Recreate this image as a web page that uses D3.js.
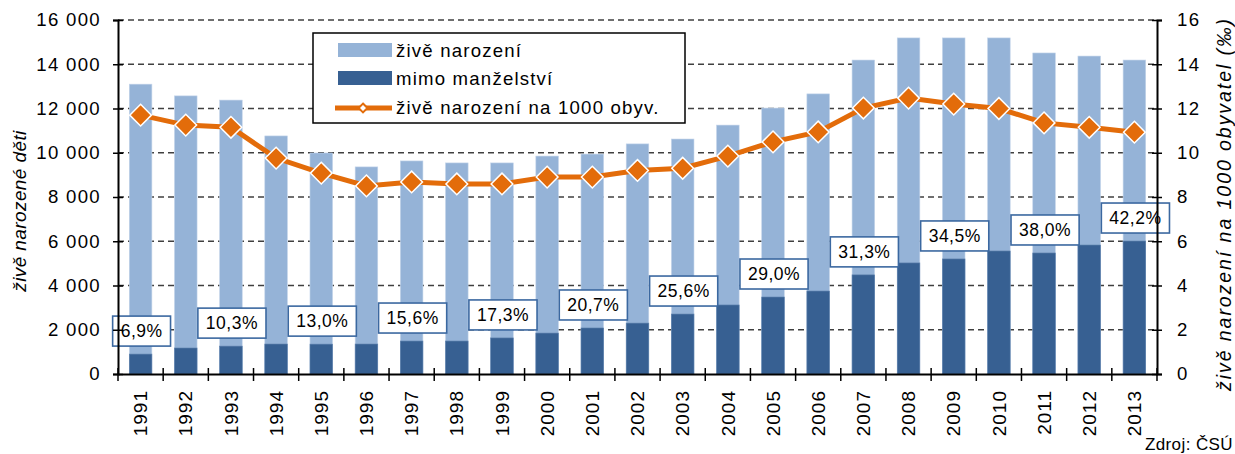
<!DOCTYPE html>
<html>
<head>
<meta charset="utf-8">
<script src="https://d3js.org/d3.v7.min.js"></script>
<style>
  body { margin: 0; background: #fff; }
  svg { font-family: "Liberation Sans", Arial, sans-serif; }
  .axis path { stroke: #000; stroke-width: 2; }
  .axis line { stroke: #000; stroke-width: 1.5; }
  .axis text { font-size: 18.6px; fill: #000; letter-spacing: 1.3px; }
</style>
</head>
<body>
<svg width="1235" height="454"></svg>
<script>
// data
const years = ["1991","1992","1993","1994","1995","1996","1997","1998","1999","2000","2001","2002",
               "2003","2004","2005","2006","2007","2008","2009","2010","2011","2012","2013"];
const births = [13100, 12570, 12380, 10760, 9990, 9360, 9630, 9540, 9540, 9850, 9940, 10400,
                10620, 11250, 12020, 12660, 14190, 15190, 15190, 15190, 14510, 14370, 14190];
const outOfWedlock = [900, 1175, 1260, 1355, 1350, 1355, 1490, 1490, 1630, 1850, 2080, 2300,
                      2710, 3120, 3480, 3750, 4480, 5020, 5200, 5560, 5470, 5830, 6010];
const rate = [11.7, 11.25, 11.15, 9.76, 9.08, 8.5, 8.68, 8.59, 8.59, 8.9, 8.9, 9.2,
              9.3, 9.85, 10.49, 10.94, 12.02, 12.47, 12.2, 12.0, 11.35, 11.15, 10.93];
const shareYears = ["1991","1993","1995","1997","1999","2001","2003","2005","2007","2009","2011","2013"];
const shareLabels = ["6,9%","10,3%","13,0%","15,6%","17,3%","20,7%","25,6%","29,0%","31,3%","34,5%","38,0%","42,2%"];
const leftTicks = [0, 2000, 4000, 6000, 8000, 10000, 12000, 14000, 16000];
const rightTicks = [0, 2, 4, 6, 8, 10, 12, 14, 16];

const cLight = "#95b3d7", cDark = "#376092", cOrange = "#e36c0a", cBox = "#3b68a0";

const margin = { top: 20, right: 78, bottom: 80, left: 118 };
const W = 1235, H = 454;
const width = W - margin.left - margin.right;
const height = H - margin.top - margin.bottom;

d3.formatDefaultLocale({ decimal: ",", thousands: " ", grouping: [3], currency: ["", " Kč"] });

const svg = d3.select("svg");
const g = svg.append("g").attr("transform", `translate(${margin.left},${margin.top})`);

const x = d3.scaleBand().domain(years).range([0, width]).paddingInner(0.5).paddingOuter(0.25);
const y = d3.scaleLinear().domain([0, 16000]).range([height, 0]);
const y2 = d3.scaleLinear().domain([0, 16]).range([height, 0]);

// gridlines
g.append("g").selectAll("line")
  .data(leftTicks.filter(d => d > 0))
  .join("line")
  .attr("x1", 0).attr("x2", width)
  .attr("y1", d => y(d)).attr("y2", d => y(d))
  .attr("stroke", "#404040").attr("stroke-width", 1.3)
  .attr("stroke-dasharray", "6,4");

// bars
g.append("g").selectAll("rect")
  .data(years)
  .join("rect")
  .attr("x", d => x(d)).attr("width", x.bandwidth())
  .attr("y", (d, i) => y(births[i])).attr("height", (d, i) => height - y(births[i]))
  .attr("fill", cLight).attr("stroke", "#c3d4ea").attr("stroke-width", 0.6);

g.append("g").selectAll("rect")
  .data(years)
  .join("rect")
  .attr("x", d => x(d)).attr("width", x.bandwidth())
  .attr("y", (d, i) => y(outOfWedlock[i])).attr("height", (d, i) => height - y(outOfWedlock[i]))
  .attr("fill", cDark).attr("stroke", "#5f82ad").attr("stroke-width", 0.6);

// line
const cx = d => x(d) + x.bandwidth() / 2;
g.append("path")
  .datum(years)
  .attr("fill", "none")
  .attr("stroke", cOrange).attr("stroke-width", 5)
  .attr("d", d3.line().x(d => cx(d)).y((d, i) => y2(rate[i])));

g.append("g").selectAll("path")
  .data(years)
  .join("path")
  .attr("d", d3.symbol(d3.symbolDiamond2, 300))
  .attr("transform", (d, i) => `translate(${cx(d)},${y2(rate[i])})`)
  .attr("fill", cOrange).attr("stroke", "#fff").attr("stroke-width", 1.5);

// share labels
const lab = g.append("g").selectAll("g")
  .data(shareYears)
  .join("g")
  .attr("transform", (d, i) => {
    const k = years.indexOf(d);
    return `translate(${cx(d) + 1},${y(outOfWedlock[k]) - 23})`;
  });
const boxes = lab.append("rect")
  .attr("y", -15).attr("height", 30)
  .attr("fill", "#fff").attr("stroke", cBox).attr("stroke-width", 1.6);
const texts = lab.append("text")
  .attr("text-anchor", "middle").attr("dy", "0.36em")
  .style("font-size", "17.5px").style("letter-spacing", "0.5px")
  .text((d, i) => shareLabels[i]);
texts.each(function (d, i) {
  const w = this.getComputedTextLength() + 16;
  d3.select(boxes.nodes()[i]).attr("x", -w / 2).attr("width", w);
});

// axes
const fmt = d3.format(",");
const ax = g.append("g").attr("class", "axis")
  .call(d3.axisLeft(y).tickValues(leftTicks).tickFormat(fmt).tickSizeOuter(0).tickSize(5).tickPadding(12));
ax.selectAll(".tick line").attr("x1", 5);

const ax2 = g.append("g").attr("class", "axis").attr("transform", `translate(${width},0)`)
  .call(d3.axisRight(y2).tickValues(rightTicks).tickSizeOuter(0).tickSize(5).tickPadding(15));
ax2.selectAll(".tick line").attr("x1", -5);

const xb = g.append("g").attr("class", "axis").attr("transform", `translate(0,${height})`)
  .call(d3.axisBottom(x).tickSize(0).tickSizeOuter(0));
xb.selectAll(".tick text")
  .attr("transform", "rotate(-90)")
  .attr("text-anchor", "end")
  .style("font-size", "19px").style("letter-spacing", "1px")
  .attr("x", -16).attr("y", 0).attr("dy", "0.35em");

// category boundary ticks
g.append("g").selectAll("line")
  .data(d3.range(years.length + 1))
  .join("line")
  .attr("x1", i => i * width / years.length).attr("x2", i => i * width / years.length)
  .attr("y1", height - 6).attr("y2", height + 7)
  .attr("stroke", "#000").attr("stroke-width", 1.5);

// axis titles
svg.append("text")
  .attr("transform", "translate(26,211) rotate(-90)")
  .attr("text-anchor", "middle")
  .style("font-size", "19px").style("font-style", "italic").style("letter-spacing", "0.4px")
  .text("živě narozené děti");

svg.append("text")
  .attr("transform", "translate(1231,205) rotate(-90)")
  .attr("text-anchor", "middle")
  .attr("textLength", 372).attr("lengthAdjust", "spacing")
  .style("font-size", "19.5px").style("font-style", "italic")
  .text("živě narození na 1000 obyvatel  (‰)");

svg.append("text")
  .attr("x", 1233).attr("y", 450).attr("text-anchor", "end")
  .style("font-size", "17px").style("letter-spacing", "0.4px")
  .text("Zdroj: ČSÚ");

// legend
const leg = svg.append("g").attr("transform", "translate(313,33)");
leg.append("rect").attr("width", 372).attr("height", 90)
  .attr("fill", "#fff").attr("stroke", "#000").attr("stroke-width", 1.5);
leg.append("rect").attr("x", 25).attr("y", 10).attr("width", 54).attr("height", 14).attr("fill", cLight);
leg.append("rect").attr("x", 25).attr("y", 38).attr("width", 54).attr("height", 14).attr("fill", cDark);
leg.append("line").attr("x1", 22).attr("x2", 79).attr("y1", 75).attr("y2", 75)
  .attr("stroke", cOrange).attr("stroke-width", 5);
leg.append("path").attr("d", d3.symbol(d3.symbolDiamond2, 50))
  .attr("transform", "translate(50,75)")
  .attr("fill", "#fff").attr("stroke", cOrange).attr("stroke-width", 2);
const legText = ["živě narození", "mimo manželství", "živě narození na 1000 obyv."];
leg.selectAll("text.l")
  .data(legText)
  .join("text")
  .attr("x", 83).attr("y", (d, i) => 17 + i * 28.5).attr("dy", "0.36em")
  .style("font-size", "18.6px").style("letter-spacing", "1.2px")
  .text(d => d);
</script>
</body>
</html>
